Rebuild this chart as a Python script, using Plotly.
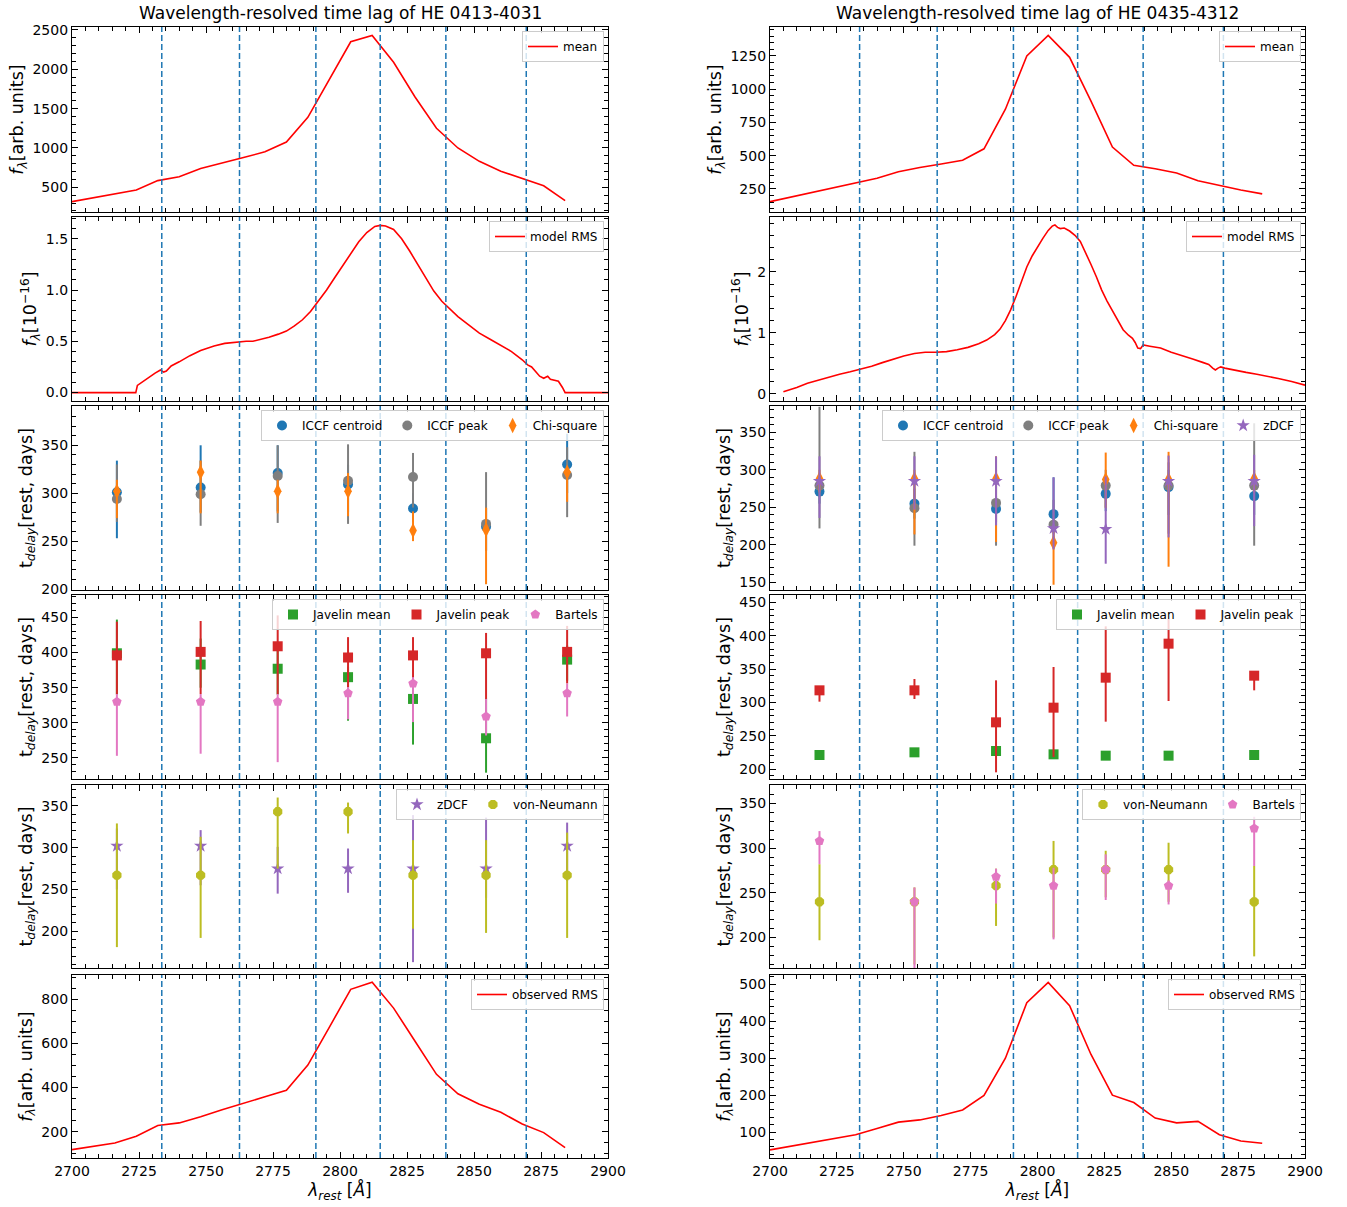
import plotly.graph_objects as go

# ---------------- DATA ----------------
bin_edges = [2733.5, 2762.5, 2791, 2815, 2839.5, 2869.5]

grid8 = [2700, 2708, 2716, 2724, 2732, 2740, 2748, 2756, 2764, 2772, 2780, 2788,
         2796, 2804, 2812, 2820, 2828, 2836, 2844, 2852, 2860, 2868, 2876, 2884]

# HE 0413-4031
L_mean = [318, 370, 418, 466, 585, 635, 740, 805, 878, 951, 1075, 1390,
          1870, 2350, 2430, 2090, 1648, 1250, 1000, 830, 705, 610, 520, 330]
L_obs_rms = [119, 135, 149, 180, 228, 240, 268, 300, 328, 358, 388, 502,
             673, 845, 877, 760, 610, 460, 372, 325, 288, 235, 196, 128]
L_rms_x = [2700, 2723.8, 2724.4, 2726, 2728.5, 2731, 2733, 2734.2, 2735.2, 2737, 2740, 2744,
           2748, 2753, 2757, 2762.5, 2765, 2767.5, 2770, 2773.5, 2777, 2780, 2783, 2786,
           2789, 2792, 2795, 2798, 2801, 2804, 2807, 2810, 2813, 2815, 2817, 2820, 2823,
           2826, 2829, 2832, 2835, 2838, 2841, 2844, 2848, 2852, 2856, 2860, 2864, 2868,
           2870, 2871.5, 2873, 2874.5, 2876, 2877.5, 2878.5, 2880, 2881.5, 2883, 2884, 2900]
L_rms_y = [0, 0, 0.07, 0.10, 0.15, 0.19, 0.22, 0.20, 0.21, 0.26, 0.30, 0.36,
           0.41, 0.455, 0.48, 0.495, 0.50, 0.50, 0.515, 0.54, 0.57, 0.60, 0.65, 0.71,
           0.79, 0.89, 1.00, 1.12, 1.24, 1.36, 1.47, 1.56, 1.62, 1.63, 1.625, 1.59, 1.50,
           1.38, 1.25, 1.11, 0.99, 0.89, 0.81, 0.74, 0.66, 0.58, 0.52, 0.46, 0.40, 0.32,
           0.27, 0.25, 0.20, 0.16, 0.14, 0.16, 0.13, 0.12, 0.11, 0.05, 0, 0]

L_lag_x = [2716.75, 2748, 2776.75, 2803, 2827.25, 2854.5, 2884.75]
L_iccf_cen = [301, 306, 321, 309, 284, 265, 330]
L_iccf_cen_lo = [253, 280, 281, 280, 270, 240, 300]
L_iccf_cen_hi = [334, 350, 350, 330, 300, 285, 362]
L_iccf_peak = [294, 299, 318, 313, 317, 268, 319]
L_iccf_peak_lo = [270, 266, 269, 268, 285, 240, 275]
L_iccf_peak_hi = [330, 334, 350, 351, 342, 322, 348]
L_chi2 = [302, 322, 302, 302, 261, 262, 322]
L_chi2_lo = [274, 279, 279, 276, 250, 205, 291]
L_chi2_hi = [314, 334, 314, 321, 281, 285, 328]
L_jav_mean = [399, 383, 377, 365, 334, 278, 390]
L_jav_mean_lo = [340, 350, 340, 303, 269, 229, 360]
L_jav_mean_hi = [447, 420, 410, 380, 350, 335, 410]
L_jav_peak = [396, 401, 409, 393, 396, 399, 401]
L_jav_peak_lo = [341, 341, 341, 351, 351, 334, 356]
L_jav_peak_hi = [444, 445, 453, 422, 422, 428, 438]
L_bartels = [330, 330, 330, 342, 356, 309, 342]
L_bartels_lo = [253, 256, 244, 305, 301, 282, 309]
L_bartels_hi = [341, 341, 341, 351, 365, 334, 356]
L_zdcf = [302, 302, 275, 275, 275, 275, 302]
L_zdcf_lo = [250, 255, 245, 246, 163, 240, 260]
L_zdcf_hi = [323, 321, 301, 299, 339, 336, 330]
L_vn = [267, 267, 343, 343, 267, 267, 267]
L_vn_lo = [181, 192, 275, 317, 203, 198, 192]
L_vn_hi = [329, 313, 360, 354, 309, 309, 318]

# HE 0435-4312
R_mean = [155, 190, 222, 260, 295, 330, 380, 412, 438, 466, 552, 850,
          1250, 1405, 1240, 910, 565, 428, 402, 370, 312, 275, 243, 213]
R_obs_rms = [52, 62, 74, 82, 93, 110, 127, 133, 145, 160, 199, 300,
             450, 505, 442, 310, 200, 180, 138, 125, 129, 93, 76, 70]
R_rms_x = [2705, 2710, 2714, 2718, 2722, 2726, 2730, 2734, 2738, 2742, 2746, 2750, 2754,
           2758, 2762, 2766, 2770, 2774, 2778, 2781, 2784, 2786, 2788, 2790, 2792, 2794,
           2796, 2798, 2800, 2802, 2804, 2805.5, 2806.5, 2807.5, 2808.5, 2810, 2812, 2814,
           2816, 2818, 2820, 2822, 2824, 2826, 2828, 2830, 2832, 2834, 2835.5, 2836.5,
           2837.5, 2838.5, 2839.5, 2842, 2846, 2850, 2854, 2858, 2862, 2864, 2865.5,
           2866.5, 2867.5, 2868.5, 2870, 2874, 2878, 2882, 2886, 2890, 2895, 2900]
R_rms_y = [0.03, 0.10, 0.17, 0.22, 0.28, 0.32, 0.36, 0.40, 0.45, 0.51, 0.57, 0.62, 0.66,
           0.68, 0.68, 0.69, 0.72, 0.76, 0.82, 0.88, 0.97, 1.06, 1.20, 1.38, 1.60, 1.85,
           2.08, 2.26, 2.41, 2.55, 2.68, 2.75, 2.77, 2.73, 2.71, 2.72, 2.67, 2.60,
           2.50, 2.32, 2.12, 1.92, 1.70, 1.52, 1.36, 1.20, 1.05, 0.96, 0.91, 0.84,
           0.75, 0.74, 0.80, 0.78, 0.75, 0.68, 0.63, 0.57, 0.51, 0.48, 0.42,
           0.39, 0.42, 0.44, 0.42, 0.38, 0.35, 0.32, 0.29, 0.25, 0.20, 0.14]

R_lag_x = [2718.5, 2754, 2784.5, 2806, 2825.5, 2849, 2881]
R_iccf_cen = [271, 255, 248, 241, 268, 277, 265]
R_iccf_cen_lo = [255, 235, 230, 215, 245, 240, 240]
R_iccf_cen_hi = [285, 275, 265, 290, 290, 300, 290]
R_iccf_peak = [279, 249, 256, 227, 279, 279, 279]
R_iccf_peak_lo = [222, 199, 199, 200, 250, 215, 199]
R_iccf_peak_hi = [384, 324, 300, 260, 300, 310, 362]
R_chi2 = [288, 288, 288, 203, 287, 287, 288]
R_chi2_lo = [270, 214, 204, 147, 249, 171, 270]
R_chi2_hi = [300, 300, 318, 225, 323, 324, 300]
R_zdcf = [285, 285, 285, 222, 221, 285, 285]
R_zdcf_lo = [236, 247, 226, 194, 175, 210, 225]
R_zdcf_hi = [318, 318, 318, 290, 291, 319, 320]
R_jav_mean = [221, 225, 227, 222, 220, 220, 221]
R_jav_mean_lo = [218, 222, 224, 219, 217, 217, 218]
R_jav_mean_hi = [224, 228, 230, 225, 223, 223, 224]
R_jav_peak = [318, 318, 270, 292, 337, 388, 340]
R_jav_peak_lo = [301, 305, 195, 218, 271, 302, 318]
R_jav_peak_hi = [320, 335, 333, 353, 414, 425, 346]
R_vn = [240, 240, 258, 276, 276, 276, 240]
R_vn_lo = [197, 170, 213, 200, 245, 240, 179]
R_vn_hi = [282, 256, 277, 308, 297, 306, 280]
R_bartels = [308, 240, 268, 258, 276, 258, 322]
R_bartels_lo = [282, 160, 238, 198, 242, 237, 280]
R_bartels_hi = [319, 256, 277, 278, 293, 264, 335]

titles = ["Wavelength-resolved time lag of HE 0413-4031",
          "Wavelength-resolved time lag of HE 0435-4312"]

# ---------------- LAYOUT ----------------
W, H = 1347, 1207
ML, MR, MT, MB = 72, 42, 27, 49
PW = W - ML - MR
PH = H - MT - MB
col_px = [(72, 608), (770, 1305)]
row_px = [(27, 212), (217, 401), (406, 590), (595, 779), (785, 968), (975, 1158)]

FONT = "DejaVu Sans"
C = dict(blue="#1f77b4", grey="#7f7f7f", orange="#ff7f0e", purple="#9467bd",
         green="#2ca02c", red="#d62728", pink="#e377c2", olive="#bcbd22")


def px_x(p):
    return (p - ML) / PW


def px_y(p):
    return (H - MB - p) / PH


def idx(c, r):
    return c * 6 + r + 1


def ax_suffix(i):
    return "" if i == 1 else str(i)


fig = go.Figure()

yranges = {
    (0, 0): [186, 2538], (0, 1): [-0.082, 1.712], (0, 2): [199, 391], (0, 3): [220, 482],
    (0, 4): [156, 375], (0, 5): [81, 910],
    (1, 0): [77, 1468], (1, 1): [-0.12, 2.90], (1, 2): [140, 385], (1, 3): [185, 461],
    (1, 4): [166, 370.5], (1, 5): [30, 525],
}
yticks = {
    (0, 0): (500, 100), (0, 1): (0.5, 0.1), (0, 2): (50, 10), (0, 3): (50, 10),
    (0, 4): (50, 10), (0, 5): (200, 50),
    (1, 0): (250, 50), (1, 1): (1, 0.2), (1, 2): (50, 10), (1, 3): (50, 10),
    (1, 4): (50, 10), (1, 5): (100, 20),
}
ylabel_flux = "<i>f</i><sub><i>λ</i></sub>[arb. units]"
ylabel_rms = "<i>f</i><sub><i>λ</i></sub>[10<sup>−16</sup>]"
ylabel_lag = "t<sub><i>delay</i></sub>[rest, days]"
ylabels = [ylabel_flux, ylabel_rms, ylabel_lag, ylabel_lag, ylabel_lag, ylabel_flux]

axis_common = dict(showline=True, linecolor="black", linewidth=1.2, mirror="allticks",
                   ticks="inside", ticklen=6, tickwidth=1.2, tickcolor="black",
                   showgrid=False, zeroline=False,
                   tickfont=dict(family=FONT, size=14, color="black"))

layout = {}
for c in range(2):
    for r in range(6):
        i = idx(c, r)
        s = ax_suffix(i)
        xd = [px_x(col_px[c][0]), px_x(col_px[c][1])]
        yd = [px_y(row_px[r][1]), px_y(row_px[r][0])]
        xa = dict(axis_common, domain=xd, anchor="y" + s, range=[2700, 2900],
                  tick0=2700, dtick=25,
                  minor=dict(ticks="inside", ticklen=3.5, tickcolor="black", dtick=5, tick0=2700),
                  showticklabels=(r == 5))
        if r == 5:
            xa["title"] = dict(text="<i>λ</i><sub><i>rest</i></sub> [<i>Å</i>]",
                               font=dict(family=FONT, size=17, color="black"), standoff=6)
        d, m = yticks[(c, r)]
        ya = dict(axis_common, domain=yd, anchor="x" + s, range=yranges[(c, r)],
                  tick0=0, dtick=d,
                  minor=dict(ticks="inside", ticklen=3.5, tickcolor="black", dtick=m, tick0=0),
                  title=dict(text=ylabels[r], font=dict(family=FONT, size=17.5, color="black"),
                             standoff=4))
        if (c, r) == (0, 1):
            ya["tickformat"] = ".1f"
        layout["xaxis" + s] = xa
        layout["yaxis" + s] = ya

fig.update_layout(**layout)


def leg_name(i):
    return "legend" if i == 1 else "legend" + str(i)


def add_line(c, r, x, y, name):
    i = idx(c, r)
    s = ax_suffix(i)
    fig.add_trace(go.Scatter(x=x, y=y, mode="lines", name=name, showlegend=True,
                             line=dict(color="red", width=1.6),
                             xaxis="x" + s, yaxis="y" + s, legend=leg_name(i)))


def add_err(c, r, x, y, lo, hi, name, color, symbol, size=10):
    i = idx(c, r)
    s = ax_suffix(i)
    fig.add_trace(go.Scatter(
        x=x, y=y, mode="markers", name=name, showlegend=True,
        marker=dict(color=color, symbol=symbol, size=size, line=dict(width=0)),
        error_y=dict(type="data", symmetric=False,
                     array=[h - v for h, v in zip(hi, y)],
                     arrayminus=[v - l for l, v in zip(lo, y)],
                     color=color, thickness=2, width=0),
        xaxis="x" + s, yaxis="y" + s, legend=leg_name(i)))


# Left column
add_line(0, 0, grid8, L_mean, "mean")
add_line(0, 1, L_rms_x, L_rms_y, "model RMS")
add_err(0, 2, L_lag_x, L_iccf_cen, L_iccf_cen_lo, L_iccf_cen_hi, "ICCF centroid", C["blue"], "circle")
add_err(0, 2, L_lag_x, L_iccf_peak, L_iccf_peak_lo, L_iccf_peak_hi, "ICCF peak", C["grey"], "circle")
add_err(0, 2, L_lag_x, L_chi2, L_chi2_lo, L_chi2_hi, "Chi-square", C["orange"], "diamond-tall", 11)
add_err(0, 3, L_lag_x, L_jav_mean, L_jav_mean_lo, L_jav_mean_hi, "Javelin mean", C["green"], "square")
add_err(0, 3, L_lag_x, L_jav_peak, L_jav_peak_lo, L_jav_peak_hi, "Javelin peak", C["red"], "square")
add_err(0, 3, L_lag_x, L_bartels, L_bartels_lo, L_bartels_hi, "Bartels", C["pink"], "pentagon")
add_err(0, 4, L_lag_x, L_zdcf, L_zdcf_lo, L_zdcf_hi, "zDCF", C["purple"], "star")
add_err(0, 4, L_lag_x, L_vn, L_vn_lo, L_vn_hi, "von-Neumann", C["olive"], "octagon")
add_line(0, 5, grid8, L_obs_rms, "observed RMS")

# Right column
add_line(1, 0, grid8, R_mean, "mean")
add_line(1, 1, R_rms_x, R_rms_y, "model RMS")
add_err(1, 2, R_lag_x, R_iccf_cen, R_iccf_cen_lo, R_iccf_cen_hi, "ICCF centroid", C["blue"], "circle")
add_err(1, 2, R_lag_x, R_iccf_peak, R_iccf_peak_lo, R_iccf_peak_hi, "ICCF peak", C["grey"], "circle")
add_err(1, 2, R_lag_x, R_chi2, R_chi2_lo, R_chi2_hi, "Chi-square", C["orange"], "diamond-tall", 11)
add_err(1, 2, R_lag_x, R_zdcf, R_zdcf_lo, R_zdcf_hi, "zDCF", C["purple"], "star")
add_err(1, 3, R_lag_x, R_jav_mean, R_jav_mean_lo, R_jav_mean_hi, "Javelin mean", C["green"], "square")
add_err(1, 3, R_lag_x, R_jav_peak, R_jav_peak_lo, R_jav_peak_hi, "Javelin peak", C["red"], "square")
add_err(1, 4, R_lag_x, R_vn, R_vn_lo, R_vn_hi, "von-Neumann", C["olive"], "octagon")
add_err(1, 4, R_lag_x, R_bartels, R_bartels_lo, R_bartels_hi, "Bartels", C["pink"], "pentagon")
add_line(1, 5, grid8, R_obs_rms, "observed RMS")

# Dashed bin boundaries
shapes = []
for c in range(2):
    for r in range(6):
        s = ax_suffix(idx(c, r))
        for e in bin_edges:
            shapes.append(dict(type="line", xref="x" + s, yref="y" + s + " domain",
                               x0=e, x1=e, y0=0, y1=1,
                               line=dict(color=C["blue"], width=1.5, dash="6px,3px"),
                               layer="above"))

# Legends
legends = {}
for c in range(2):
    for r in range(6):
        i = idx(c, r)
        legends[leg_name(i)] = dict(
            x=px_x(col_px[c][1] - 4), xanchor="right",
            y=px_y(row_px[r][0] + 4), yanchor="top",
            orientation="h", bgcolor="rgba(255,255,255,0.8)",
            bordercolor="#cccccc", borderwidth=1,
            font=dict(family=FONT, size=12, color="black"),
            itemwidth=30, tracegroupgap=0, visible=True)

annotations = []
for c in range(2):
    annotations.append(dict(text=titles[c], xref="paper", yref="paper",
                            x=(px_x(col_px[c][0]) + px_x(col_px[c][1])) / 2, y=1,
                            xanchor="center", yanchor="bottom", yshift=2, showarrow=False,
                            font=dict(family=FONT, size=17, color="black")))

fig.update_layout(width=W, height=H, margin=dict(l=ML, r=MR, t=MT, b=MB, autoexpand=False),
                  plot_bgcolor="white", paper_bgcolor="white", showlegend=True,
                  font=dict(family=FONT, color="black"),
                  shapes=shapes, annotations=annotations, **legends)

fig.write_html("out.html")
